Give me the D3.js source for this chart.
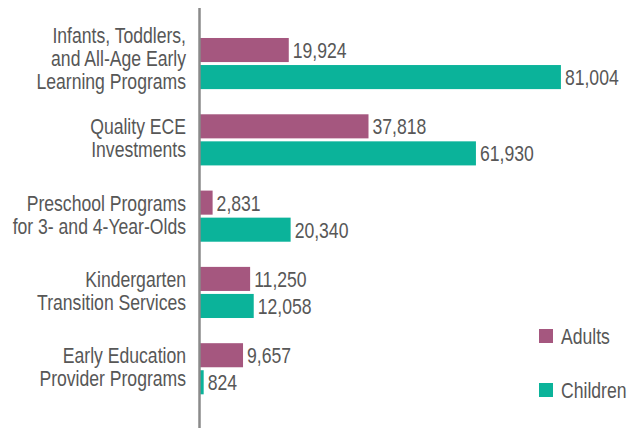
<!DOCTYPE html>
<html>
<head>
<meta charset="utf-8">
<script src="https://cdn.jsdelivr.net/npm/d3@7"></script>
<style>
  html, body { margin: 0; padding: 0; background: #fff; }
  svg text { font-family: "Liberation Sans", Arial, sans-serif; fill: #575757; }
</style>
</head>
<body>
<svg id="chart" width="629" height="428"></svg>
<script>
// categories (label lines) and series values
var categories = [
  ["Infants, Toddlers,", "and All-Age Early", "Learning Programs"],
  ["Quality ECE", "Investments"],
  ["Preschool Programs", "for 3- and 4-Year-Olds"],
  ["Kindergarten", "Transition Services"],
  ["Early Education", "Provider Programs"]
];
var seriesNames = ["Adults", "Children"];
var adults = [19924, 37818, 2831, 11250, 9657];
var children = [81004, 61930, 20340, 12058, 824];
var colors = ["#a5577f", "#0bb39a"];

var svg = d3.select("#chart");
var narrow = 0.8; // squeeze text horizontally, the original uses a condensed face
var fontSize = 22;

var rows = categories.map(function (c, i) {
  return { key: i, lines: c, values: [adults[i], children[i]] };
});

// scales
var x = d3.scaleLinear().domain([0, 90000]).range([200, 601]);

var y = d3.scaleBand()
  .domain(d3.range(rows.length))
  .range([25.4, 406.9])
  .paddingInner(0.33)
  .paddingOuter(0.165);

var ySub = d3.scaleBand()
  .domain(seriesNames)
  .range([0, y.bandwidth()])
  .paddingInner(0.11);

var fmt = d3.format(",");

function place(px, py) {
  return "translate(" + px + "," + py + ") scale(" + narrow + ",1)";
}

// bars
var groups = svg.append("g")
  .selectAll("g")
  .data(rows)
  .enter()
  .append("g")
  .attr("transform", function (d) { return "translate(0," + y(d.key) + ")"; });

groups.selectAll("rect")
  .data(function (d) { return d.values.map(function (v, j) { return { name: seriesNames[j], value: v, j: j }; }); })
  .enter()
  .append("rect")
  .attr("x", x(0))
  .attr("y", function (d) { return ySub(d.name); })
  .attr("width", function (d) { return x(d.value) - x(0); })
  .attr("height", ySub.bandwidth())
  .attr("fill", function (d) { return colors[d.j]; });

// value labels
groups.selectAll("text.val")
  .data(function (d) { return d.values.map(function (v, j) { return { name: seriesNames[j], value: v }; }); })
  .enter()
  .append("text")
  .attr("class", "val")
  .attr("transform", function (d) {
    return place(x(d.value) + 4, ySub(d.name) + ySub.bandwidth() / 2);
  })
  .attr("dy", "0.36em")
  .attr("font-size", fontSize)
  .text(function (d) { return fmt(d.value); });

// category labels
var lineH = 23;
var labels = svg.append("g")
  .selectAll("g")
  .data(rows)
  .enter()
  .append("g")
  .attr("transform", function (d) {
    var n = d.lines.length;
    var c = y(d.key) + y.bandwidth() / 2;
    return place(186, c - (n - 1) * lineH / 2 + 10 - 4 * (n - 1));
  });

labels.selectAll("text")
  .data(function (d) { return d.lines; })
  .enter()
  .append("text")
  .attr("text-anchor", "end")
  .attr("font-size", fontSize)
  .attr("y", function (d, k) { return k * lineH; })
  .text(function (d) { return d; });

// axis line
svg.append("line")
  .attr("x1", 199.5).attr("x2", 199.5)
  .attr("y1", 8).attr("y2", 428)
  .attr("stroke", "#8a8a8a")
  .attr("stroke-width", 2.5);

// legend
var legend = svg.append("g")
  .selectAll("g")
  .data(seriesNames)
  .enter()
  .append("g")
  .attr("transform", function (d, i) { return "translate(539," + (329 + i * 54) + ")"; });

legend.append("rect")
  .attr("width", 14).attr("height", 14)
  .attr("fill", function (d, i) { return colors[i]; });

legend.append("text")
  .attr("transform", place(22, 7))
  .attr("dy", "0.36em")
  .attr("font-size", fontSize)
  .text(function (d) { return d; });
</script>
</body>
</html>
